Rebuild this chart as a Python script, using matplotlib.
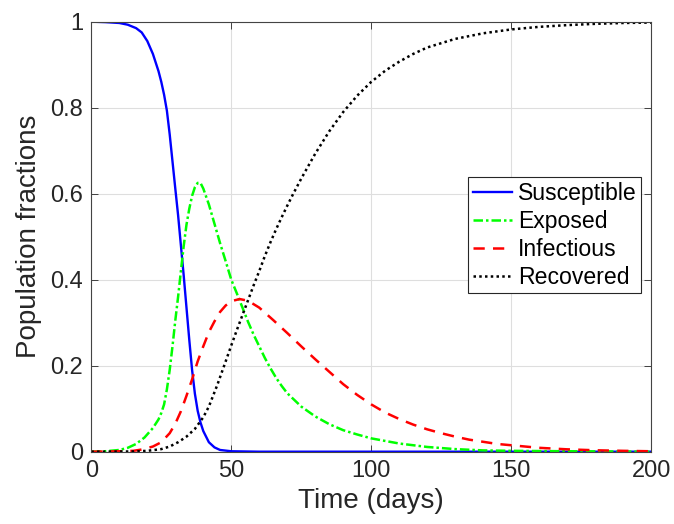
import numpy as np
import matplotlib
matplotlib.use("Agg")
import matplotlib.pyplot as plt

plt.rcParams['font.family'] = ['Liberation Sans', 'DejaVu Sans']

# values
t_s = [0, 5, 10, 13, 16, 18, 20, 22, 24, 25, 26, 27, 28, 29, 30, 31, 32, 33, 34,
       35, 36, 37, 38, 39, 40, 42, 44, 46, 50, 60, 100, 150, 200]
susceptible = [1.0, 0.999, 0.997, 0.993, 0.985, 0.975, 0.955, 0.925, 0.885, 0.86,
               0.83, 0.793, 0.738, 0.675, 0.612, 0.55, 0.48, 0.41, 0.335, 0.26,
               0.19, 0.135, 0.095, 0.068, 0.048, 0.022, 0.01, 0.004, 0.001, 0.0,
               0.0, 0.0, 0.0]

t_e = [0, 5, 10, 13, 16, 19, 22, 24, 25, 26, 27, 28, 29, 30, 31, 32, 33, 34, 35,
       36, 37, 38, 39, 40, 42, 44, 46, 48, 50, 52, 54, 56, 58, 60, 62, 64, 66, 68,
       70, 75, 80, 85, 90, 95, 100, 110, 120, 130, 140, 150, 170, 200]
exposed = [0.0, 0.001, 0.004, 0.009, 0.018, 0.033, 0.055, 0.075, 0.09, 0.11,
           0.145, 0.19, 0.245, 0.305, 0.36, 0.42, 0.478, 0.528, 0.565, 0.595,
           0.615, 0.625, 0.625, 0.612, 0.575, 0.53, 0.485, 0.443, 0.40, 0.368,
           0.335, 0.302, 0.272, 0.245, 0.218, 0.194, 0.172, 0.153, 0.136, 0.105,
           0.082, 0.064, 0.05, 0.04, 0.031, 0.019, 0.011, 0.006, 0.003, 0.002,
           0.001, 0.0]

t_i = [0, 10, 15, 18, 22, 25, 28, 30, 32, 34, 36, 38, 40, 42, 44, 46, 48, 50, 53,
       56, 60, 65, 70, 75, 80, 85, 90, 95, 100, 105, 110, 115, 120, 125, 130, 135,
       140, 145, 150, 160, 170, 180, 190, 200]
infectious = [0.0, 0.001, 0.002, 0.005, 0.012, 0.022, 0.043, 0.065, 0.094, 0.13,
              0.168, 0.21, 0.245, 0.278, 0.303, 0.325, 0.34, 0.35, 0.355, 0.351,
              0.335, 0.306, 0.276, 0.245, 0.215, 0.186, 0.157, 0.132, 0.11, 0.091,
              0.076, 0.063, 0.052, 0.043, 0.035, 0.028, 0.023, 0.018, 0.015, 0.009,
              0.0055, 0.0033, 0.002, 0.001]

t_r = [0, 15, 20, 25, 28, 31, 34, 37, 40, 42, 45, 48, 50, 52, 55, 58, 60, 62, 64,
       66, 68, 70, 72, 75, 78, 80, 85, 90, 95, 100, 105, 110, 115, 120, 130, 140,
       150, 160, 170, 180, 190, 200]
recovered = [0.0, 0.0005, 0.002, 0.006, 0.012, 0.022, 0.035, 0.053, 0.08, 0.105,
             0.155, 0.21, 0.247, 0.283, 0.335, 0.387, 0.42, 0.455, 0.487, 0.517,
             0.545, 0.572, 0.598, 0.635, 0.67, 0.693, 0.745, 0.79, 0.828, 0.86,
             0.886, 0.907, 0.925, 0.94, 0.96, 0.973, 0.982, 0.988, 0.992, 0.995,
             0.997, 0.998]

x_ticks = [0, 50, 100, 150, 200]
y_ticks = [0, 0.2, 0.4, 0.6, 0.8, 1]
y_tick_labels = ['0', '0.2', '0.4', '0.6', '0.8', '1']

fig = plt.figure(figsize=(6.74, 5.24), dpi=100)
ax = fig.add_axes([0.1355, 0.138, 0.8305, 0.8206])

ax.plot(t_s, susceptible, color=(0, 0, 1), lw=1.7, label='Susceptible')
ax.plot(t_e, exposed, color=(0, 1, 0), lw=1.8, linestyle=(0, (3.8, 1.2, 1, 1.2)), label='Exposed')
ax.plot(t_i, infectious, color=(1, 0, 0), lw=1.8, linestyle=(0, (4.5, 3.3)), label='Infectious')
ax.plot(t_r, recovered, color='k', lw=1.8, linestyle=(0, (1, 1.3)), label='Recovered')

ax.set_xlim(0, 200)
ax.set_ylim(0, 1)
ax.set_xticks(x_ticks)
ax.set_yticks(y_ticks)
ax.set_yticklabels(y_tick_labels)
ax.tick_params(direction='in', top=True, right=True, labelsize=17, colors='#262626',
               length=5, width=0.6, pad=6)
for s in ax.spines.values():
    s.set_color('#444444')
    s.set_linewidth(0.8)
ax.grid(True, color='#dedede', lw=0.8)
ax.set_axisbelow(True)

ax.set_xlabel('Time (days)', fontsize=20, color='#262626', labelpad=4)
ax.set_ylabel('Population fractions', fontsize=20, color='#262626', labelpad=6)

leg = ax.legend(loc='center right', bbox_to_anchor=(0.982, 0.5035), fontsize=16.6,
                fancybox=False, framealpha=1, edgecolor='#262626', handlelength=1.7,
                handletextpad=0.25, labelspacing=0.22, borderpad=0.2, borderaxespad=0)
leg.get_frame().set_linewidth(0.8)

fig.savefig('out.png', dpi=100)
